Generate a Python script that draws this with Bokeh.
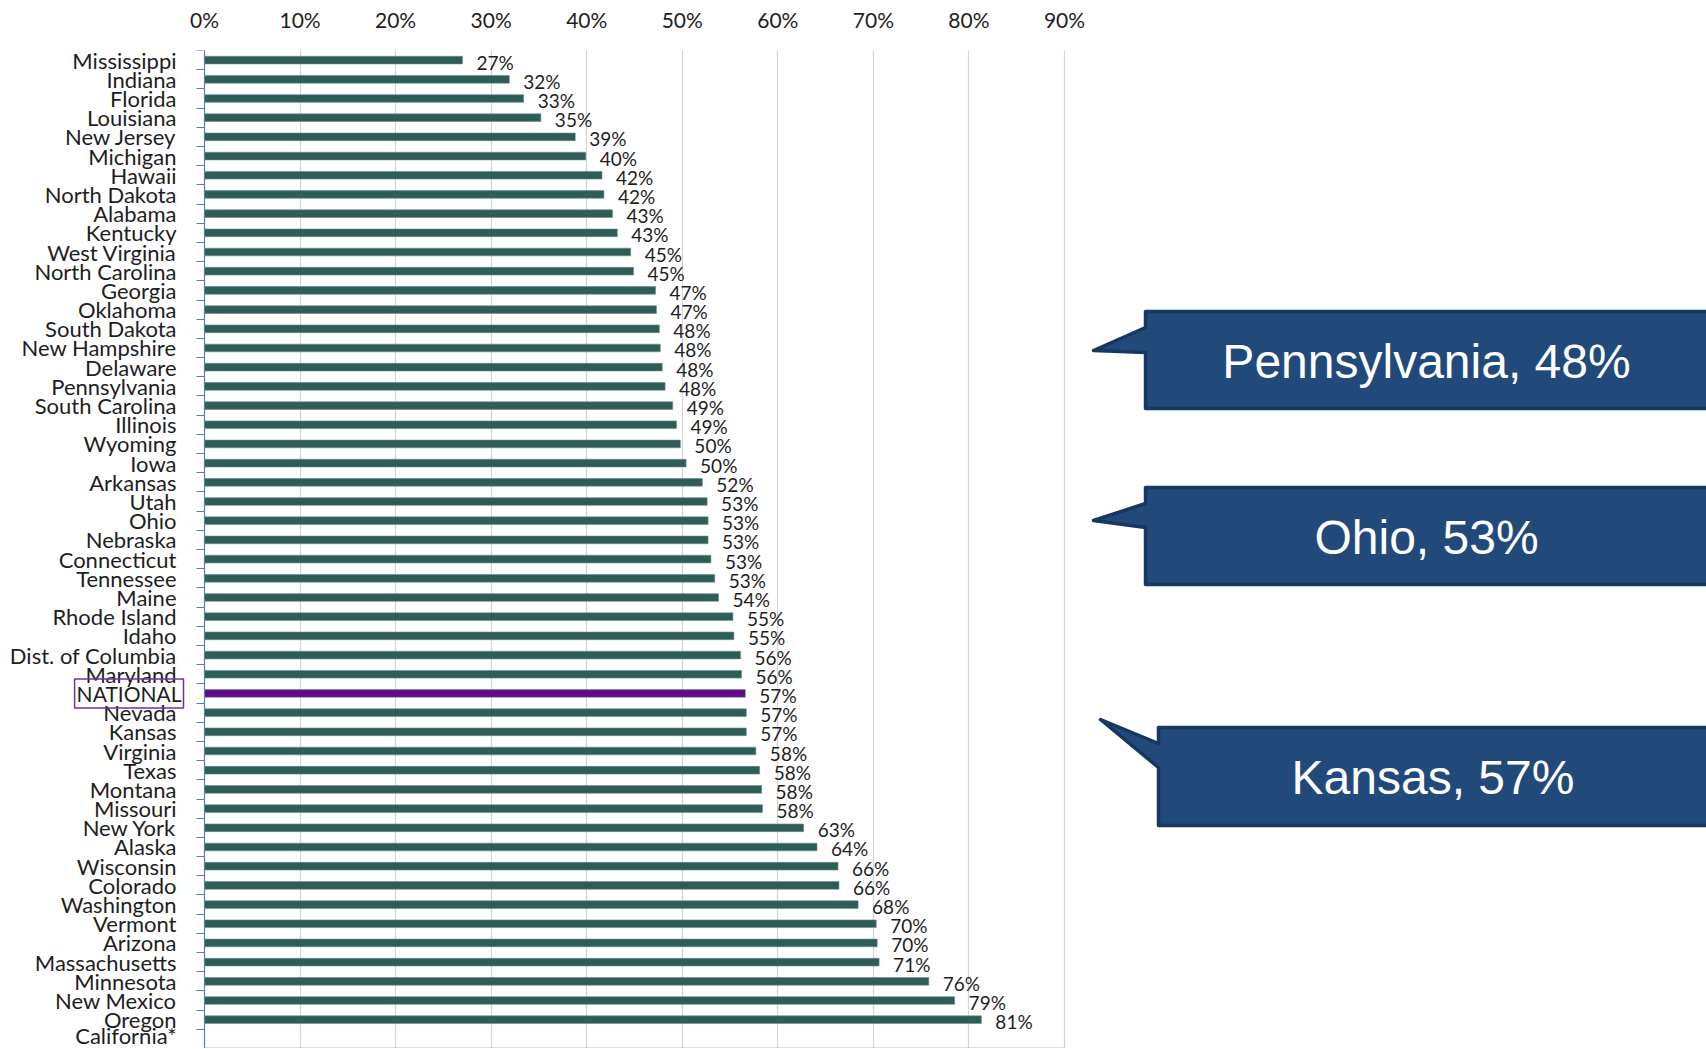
from bokeh.plotting import figure
from bokeh.layouts import row
from bokeh.models import (Range1d, FixedTicker, ColumnDataSource, Label, LinearAxis)
from bokeh.core.properties import value
from bokeh.embed import file_html
from bokeh.resources import INLINE

# ---------------- data ----------------
states = ["Mississippi", "Indiana", "Florida", "Louisiana", "New Jersey", "Michigan",
          "Hawaii", "North Dakota", "Alabama", "Kentucky", "West Virginia",
          "North Carolina", "Georgia", "Oklahoma", "South Dakota", "New Hampshire",
          "Delaware", "Pennsylvania", "South Carolina", "Illinois", "Wyoming", "Iowa",
          "Arkansas", "Utah", "Ohio", "Nebraska", "Connecticut", "Tennessee", "Maine",
          "Rhode Island", "Idaho", "Dist. of Columbia", "Maryland", "NATIONAL",
          "Nevada", "Kansas", "Virginia", "Texas", "Montana", "Missouri", "New York",
          "Alaska", "Wisconsin", "Colorado", "Washington", "Vermont", "Arizona",
          "Massachusetts", "Minnesota", "New Mexico", "Oregon", "California*"]
values = [27.0, 31.9, 33.4, 35.2, 38.8, 39.9,
          41.6, 41.8, 42.7, 43.2, 44.6,
          44.9, 47.2, 47.3, 47.6, 47.7,
          47.9, 48.2, 49.0, 49.4, 49.8, 50.4,
          52.1, 52.6, 52.7, 52.7, 53.0, 53.4, 53.8,
          55.3, 55.4, 56.1, 56.2, 56.6,
          56.7, 56.7, 57.7, 58.1, 58.3, 58.4, 62.7,
          64.1, 66.3, 66.4, 68.4, 70.3, 70.4,
          70.6, 75.8, 78.5, 81.3, None]
value_labels = ["27%", "32%", "33%", "35%", "39%", "40%",
                "42%", "42%", "43%", "43%", "45%",
                "45%", "47%", "47%", "48%", "48%",
                "48%", "48%", "49%", "49%", "50%", "50%",
                "52%", "53%", "53%", "53%", "53%", "53%", "54%",
                "55%", "55%", "56%", "56%", "57%",
                "57%", "57%", "58%", "58%", "58%", "58%", "63%",
                "64%", "66%", "66%", "68%", "70%", "70%",
                "71%", "76%", "79%", "81%", ""]
x_ticks = [0, 10, 20, 30, 40, 50, 60, 70, 80, 90]
highlight = "NATIONAL"
callout_texts = ["Pennsylvania, 48%", "Ohio, 53%", "Kansas, 57%"]

# ---------------- styles / layout ----------------
BAR = "#2E5D57"
NAT = "#5E0B8C"
TXT = "#1E1E1E"
FONT = "Lato"
AXIS_BLUE = "#4F81BD"
GRID = "#D4D4D4"

W_LEFT = 1088          # width of the chart figure
AX_PX = 204            # pixel where 0% sits
END_PX = 1064          # pixel where 90% sits
H = 1048
TOP = 50

n = len(states)
idx = list(range(n))
rows = [i for i in idx if values[i] is not None]
src = ColumnDataSource(dict(
    y=rows,
    v=[values[i] for i in rows],
    lab=[value_labels[i] for i in rows],
    color=[NAT if states[i] == highlight else BAR for i in rows],
))

px_per = (END_PX - AX_PX) / (x_ticks[-1] - x_ticks[0])
x0 = x_ticks[0] - AX_PX / px_per
x1 = x_ticks[0] + (W_LEFT - AX_PX) / px_per

p = figure(width=W_LEFT, height=H, output_backend="svg", toolbar_location=None,
           x_range=Range1d(x0, x1), y_range=Range1d(n - 0.5, -0.5),
           x_axis_location="above", y_axis_location=None,
           min_border_left=0, min_border_right=0, min_border_top=TOP,
           min_border_bottom=0)
p.outline_line_color = None

p.hbar(y="y", left=0, right="v", height=0.4, fill_color="color",
       line_color="#6E8C88", line_width=0.6, source=src)
p.text(x="v", y="y", text="lab", source=src, x_offset=14, y_offset=2,
       text_baseline="middle", text_align="left", text_font_size="19px",
       text_font=value(FONT), text_color=TXT)

# x axis on top
xa = p.xaxis[0]
xa.ticker = FixedTicker(ticks=x_ticks)
xa.major_label_overrides = {t: f"{t}%" for t in x_ticks}
xa.axis_line_color = None
xa.major_tick_line_color = None
xa.minor_tick_line_color = None
xa.major_tick_out = 0
xa.major_label_standoff = 19
xa.major_label_text_font = FONT
xa.major_label_text_font_size = "21px"
xa.major_label_text_color = TXT

# y axis with category labels, fixed at 0%
ya = LinearAxis(fixed_location=x_ticks[0])
ya.ticker = FixedTicker(ticks=idx, minor_ticks=[i - 0.5 for i in range(n + 1)])
ya.major_label_overrides = {i: ("" if s == highlight else s) for i, s in enumerate(states)}
ya.axis_line_color = AXIS_BLUE
ya.axis_line_width = 1.2
ya.major_tick_line_color = None
ya.major_tick_out = 0
ya.major_tick_in = 0
ya.minor_tick_line_color = AXIS_BLUE
ya.minor_tick_line_width = 1.2
ya.minor_tick_out = 8
ya.minor_tick_in = 0
ya.major_label_standoff = 20
ya.major_label_text_font = FONT
ya.major_label_text_font_size = "22px"
ya.major_label_text_color = TXT
p.add_layout(ya, "left")

p.ygrid.grid_line_color = None
p.xgrid.ticker = FixedTicker(ticks=x_ticks[1:])
p.xgrid.grid_line_color = GRID
p.xgrid.grid_line_width = 1.2

# bottom axis line of the plot area
p.segment(x0=[x_ticks[0]], x1=[x_ticks[-1]], y0=[n - 0.5], y1=[n - 0.5],
          line_color="#BFBFBF", line_width=2)

nat_i = states.index(highlight)
p.add_layout(Label(x=x_ticks[0], y=nat_i, x_offset=-21, y_offset=0, text=highlight,
                   text_align="right", text_baseline="middle", text_font=FONT,
                   text_font_size="21px", text_color=TXT, text_line_height=0.95,
                   border_line_color="#7030A0", border_line_width=1.5, padding=2))

# ---------------- callouts panel ----------------
W_RIGHT = 1706 - W_LEFT
q = figure(width=W_RIGHT, height=H, output_backend="svg", toolbar_location=None,
           x_range=Range1d(W_LEFT, 1706), y_range=Range1d(H, TOP),
           min_border=0, min_border_top=TOP)
q.axis.visible = False
q.grid.visible = False
q.outline_line_color = None

# (box_left, top, bottom, upper_base, lower_base, tip_x, tip_y) in page pixels
shapes = [(1145, 311, 408, 327, 352, 1093, 350),
          (1145, 487, 584, 503, 527, 1093, 520),
          (1158, 727, 825, 743, 767, 1100, 719)]
xs, ys, cx, cy = [], [], [], []
for (l, t, b, ub, lb, tx, ty) in shapes:
    right = 1740
    xs.append([l, right, right, l, l, tx, l])
    ys.append([t, t, b, b, lb, ty, ub])
    cx.append((l + 1707) / 2)
    cy.append((t + b) / 2 + 1)
q.patches(xs, ys, fill_color="#214A7B", line_color="#17375E", line_width=3.5,
          line_join="round")
q.text(x=cx, y=cy, text=callout_texts, text_align="center", text_baseline="middle",
       text_font=value("Liberation Sans"), text_font_size="48px", text_color="white")

layout = row(p, q)
open("out.html", "w").write(file_html(layout, INLINE))
